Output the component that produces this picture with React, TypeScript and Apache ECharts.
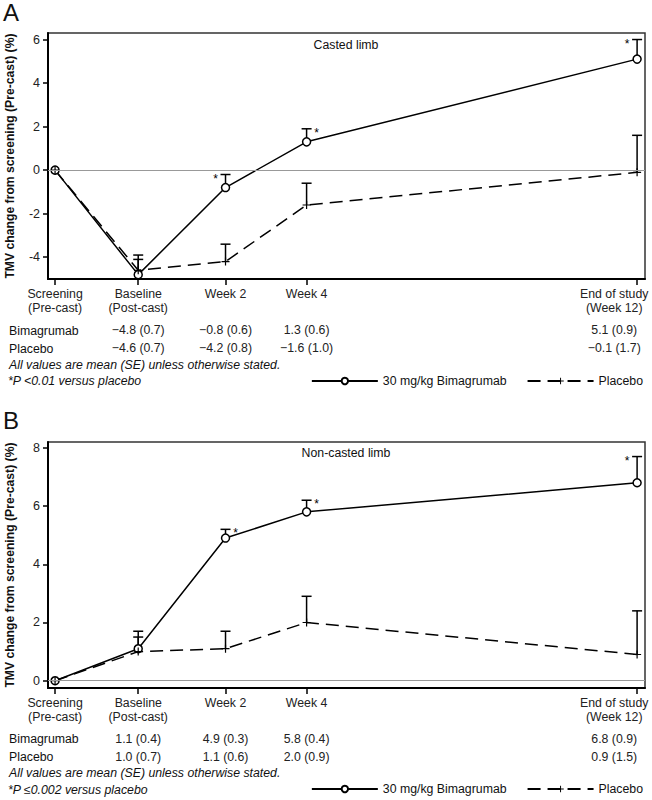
import React, { useEffect, useRef } from "react";
import * as echarts from "echarts";

// ---- Data ----
const timeLabels = ["Screening\n(Pre-cast)", "Baseline\n(Post-cast)", "Week 2", "Week 4", "End of study\n(Week 12)"];
const timeWeeks = [-2, 0, 2.1, 4.05, 12];

const bimaA = [0, -4.8, -0.8, 1.3, 5.1];
const bimaASE = [null, 0.7, 0.6, 0.6, 0.9];
const placeboA = [0, -4.6, -4.2, -1.6, -0.1];
const placeboASE = [null, 0.7, 0.8, 1.0, 1.7];
const starsA = ["", "", "left", "right", "left"];

const bimaB = [0, 1.1, 4.9, 5.8, 6.8];
const bimaBSE = [null, 0.4, 0.3, 0.4, 0.9];
const placeboB = [0, 1.0, 1.1, 2.0, 0.9];
const placeboBSE = [null, 0.7, 0.6, 0.9, 1.5];
const starsB = ["", "", "right", "right", "left"];

const yTicksA = [-4, -2, 0, 2, 4, 6];
const yTicksB = [0, 2, 4, 6, 8];

const seriesNames = ["30 mg/kg Bimagrumab", "Placebo"];
const rowLabels = ["Bimagrumab", "Placebo"];
const yTitle = "TMV change from screening (Pre-cast) (%)";
const footNote = "All values are mean (SE) unless otherwise stated.";
const pNoteA = "*P <0.01 versus placebo";
const pNoteB = "*P \u22640.002 versus placebo";

const FONT = "'Liberation Sans', Arial, Helvetica, sans-serif";
const FS = 12.3;
const X_MIN = -2.17;
const X_MAX = 12.19;
const END_LABEL_SHIFT = 0.55;

const fmt = (v: number) => (v < 0 ? "\u2212" + Math.abs(v).toFixed(1) : v.toFixed(1));
const labelPositions = timeWeeks.map((t, i) => (i === timeWeeks.length - 1 ? t - END_LABEL_SHIFT : t));
const idxOf = (v: number) => labelPositions.findIndex((p) => Math.abs(p - v) < 1e-6);

const crossSymbol = "path://M0,3.4H8V4.6H0Z M3.4,0H4.6V8H3.4Z";

function errorBarSeries(xIdx: number, yIdx: number, vals: number[], ses: (number | null)[], stars: string[]) {
  const data: number[][] = [];
  vals.forEach((v, i) => {
    const se = ses[i];
    if (se != null) data.push([timeWeeks[i], v, v + se, i]);
  });
  return {
    type: "custom",
    xAxisIndex: xIdx,
    yAxisIndex: yIdx,
    z: 3,
    silent: true,
    encode: { x: 0, y: [1, 2] },
    data,
    renderItem: (params: any, api: any) => {
      const p = api.coord([api.value(0), api.value(1)]);
      const q = api.coord([api.value(0), api.value(2)]);
      const star = stars[api.value(3)];
      const children: any[] = [
        { type: "line", shape: { x1: p[0], y1: p[1], x2: q[0], y2: q[1] }, style: { stroke: "#000", lineWidth: 1.5 } },
        { type: "line", shape: { x1: q[0] - 5, y1: q[1], x2: q[0] + 5, y2: q[1] }, style: { stroke: "#000", lineWidth: 1.5 } },
      ];
      if (star) {
        children.push({
          type: "text",
          x: q[0] + (star === "left" ? -10 : 10),
          y: q[1] + 4,
          style: { text: "*", fill: "#000", font: "12px " + FONT, align: "center", verticalAlign: "middle" },
        });
      }
      return { type: "group", children };
    },
  };
}

function panel(p: number, top: number, yMin: number, yMax: number, yTicks: number[], bima: number[], bimaSE: (number | null)[], plc: number[], plcSE: (number | null)[], stars: string[]) {
  const height = 246;
  const grid = {
    left: 48,
    right: 7,
    top,
    height,
    show: true,
    borderColor: "#333",
    borderWidth: 1.5,
    backgroundColor: "transparent",
    containLabel: false,
    outerBoundsMode: "none",
  };
  const mainX = {
    type: "value",
    gridIndex: p,
    position: "bottom",
    min: X_MIN,
    max: X_MAX,
    splitLine: { show: false },
    axisLine: { show: true, onZero: false, lineStyle: { color: "#000", width: 2 } },
    axisTick: { show: true, customValues: timeWeeks, length: 6, lineStyle: { color: "#000", width: 1.5 } },
    axisLabel: {
      customValues: labelPositions,
      formatter: (v: number) => timeLabels[idxOf(v)] ?? "",
      fontSize: FS,
      lineHeight: 14,
      margin: 8,
      color: "#222",
      fontFamily: FONT,
    },
  };
  const rowAxis = (vals: number[], ses: (number | null)[], offset: number) => ({
    type: "value",
    gridIndex: p,
    position: "bottom",
    min: X_MIN,
    max: X_MAX,
    offset,
    splitLine: { show: false },
    axisLine: { show: false, onZero: false },
    axisTick: { show: false },
    axisLabel: {
      customValues: labelPositions.filter((_, i) => ses[i] != null),
      formatter: (v: number) => {
        const i = idxOf(v);
        return i >= 0 && ses[i] != null ? `${fmt(vals[i])} (${(ses[i] as number).toFixed(1)})` : "";
      },
      fontSize: FS,
      lineHeight: 14,
      margin: 8,
      color: "#222",
      fontFamily: FONT,
    },
  });
  const yAxis = {
    type: "value",
    gridIndex: p,
    position: "left",
    min: yMin,
    max: yMax,
    splitLine: { show: false },
    axisLine: { show: true, onZero: false, lineStyle: { color: "#000", width: 2 } },
    axisTick: { show: true, customValues: yTicks, length: 5, lineStyle: { color: "#000", width: 1.5 } },
    axisLabel: { customValues: yTicks, fontSize: 12.5, margin: 8, color: "#222", fontFamily: FONT },
    name: yTitle,
    nameLocation: "middle",
    nameGap: 32,
    nameTextStyle: { fontSize: 12.2, fontWeight: "bold", color: "#111", fontFamily: FONT },
  };
  const xMain = p * 3;
  const series = [
    {
      type: "line",
      name: seriesNames[0],
      xAxisIndex: xMain,
      yAxisIndex: p,
      z: 4,
      data: timeWeeks.map((t, i) => [t, bima[i]]),
      symbol: "circle",
      symbolSize: 8,
      showAllSymbol: true,
      itemStyle: { color: "#fff", borderColor: "#000", borderWidth: 1.5 },
      lineStyle: { color: "#000", width: 1.5 },
      markLine: {
        silent: true,
        symbol: ["none", "none"],
        label: { show: false },
        lineStyle: { color: "#999", width: 1, type: "solid" },
        data: [{ yAxis: 0 }],
      },
    },
    {
      type: "line",
      name: seriesNames[1],
      xAxisIndex: xMain,
      yAxisIndex: p,
      z: 4,
      data: timeWeeks.map((t, i) => [t, plc[i]]),
      symbol: crossSymbol,
      symbolSize: 8,
      showAllSymbol: true,
      itemStyle: { color: "#000" },
      lineStyle: { color: "#000", width: 1.5, type: [13, 7] },
    },
    errorBarSeries(xMain, p, bima, bimaSE, stars),
    errorBarSeries(xMain, p, plc, plcSE, ["", "", "", "", ""]),
  ];
  return {
    grid,
    xAxes: [mainX, rowAxis(bima, bimaSE, 36), rowAxis(plc, plcSE, 54)],
    yAxis,
    series,
  };
}

function textEl(text: string, x: number, y: number, font: string, align = "left") {
  return { type: "text", x, y, silent: true, style: { text, font, fill: "#111", align, verticalAlign: "middle" } };
}

export default function App() {
  const ref = useRef<HTMLDivElement>(null);
  useEffect(() => {
    document.body.style.margin = "0";
    if (!ref.current) return;
    const chart = echarts.init(ref.current, null, { renderer: "svg" });
    const A = panel(0, 33, -5, 6.3, yTicksA, bimaA, bimaASE, placeboA, placeboASE, starsA);
    const B = panel(1, 442, -0.25, 8.2, yTicksB, bimaB, bimaBSE, placeboB, placeboBSE, starsB);
    const legendBase = {
      right: 9,
      width: 600,
      orient: "horizontal",
      padding: 0,
      itemWidth: 66,
      itemHeight: 8,
      itemGap: 20,
      selectedMode: false,
      data: seriesNames,
      textStyle: { fontSize: FS, color: "#111", fontFamily: FONT },
    };
    const f12 = FS + "px " + FONT;
    const i12 = "italic " + FS + "px " + FONT;
    chart.setOption({
      animation: false,
      backgroundColor: "#fff",
      grid: [A.grid, B.grid],
      xAxis: [...A.xAxes, ...B.xAxes],
      yAxis: [A.yAxis, B.yAxis],
      legend: [
        { ...legendBase, top: 375 },
        { ...legendBase, top: 783 },
      ],
      series: [...A.series, ...B.series],
      graphic: [
        textEl("A", 3, 12, "24px " + FONT),
        textEl("B", 3, 420, "24px " + FONT),
        textEl("Casted limb", 346, 45, f12, "center"),
        textEl("Non-casted limb", 346, 453, f12, "center"),
        textEl(rowLabels[0], 9, 331, f12),
        textEl(rowLabels[1], 9, 349, f12),
        textEl(footNote, 9, 365, i12),
        textEl(pNoteA, 8, 381, i12),
        textEl(rowLabels[0], 9, 739, f12),
        textEl(rowLabels[1], 9, 757, f12),
        textEl(footNote, 9, 773, i12),
        textEl(pNoteB, 8, 790, i12),
      ],
    });
    return () => chart.dispose();
  }, []);
  return <div ref={ref} style={{ width: 652, height: 800 }} />;
}
